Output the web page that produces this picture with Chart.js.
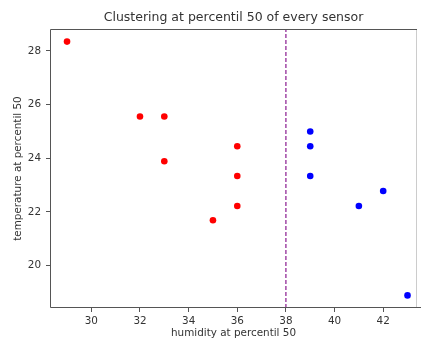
<!DOCTYPE html>
<html>
<head>
<meta charset="utf-8">
<script src="https://cdn.jsdelivr.net/npm/chart.js@4/dist/chart.umd.min.js"></script>
<style>
  html, body { margin: 0; padding: 0; background: #fff; overflow: hidden; }
</style>
</head>
<body>
<canvas id="myChart" width="421" height="341"></canvas>
<script>
// cluster 0 (red) and cluster 1 (blue), humidity / temperature at percentile 50
const redHumidity = [29, 32, 33, 33, 36, 36, 36, 35];
const redTemperature = [28.35, 25.56, 25.56, 23.89, 24.45, 23.34, 22.22, 21.69];
const blueHumidity = [39, 39, 39, 42, 41, 43];
const blueTemperature = [25.0, 24.45, 23.34, 22.78, 22.22, 18.89];

const splitHumidity = 38;

const xTicks = [30, 32, 34, 36, 38, 40, 42];
const yTicks = [20, 22, 24, 26, 28];
const xLimits = [28.3, 43.39];
const yLimits = [18.42, 28.82];

const toPoints = (xs, ys) => xs.map((x, i) => ({ x: x, y: ys[i] }));

// axes box: dark left/top/bottom spines, the right one is barely visible
const frame = {
  id: "frame",
  afterDatasetsDraw(chart) {
    const a = chart.chartArea;
    const ctx = chart.ctx;
    ctx.save();
    ctx.lineWidth = 1;
    ctx.strokeStyle = "#ccc";
    ctx.beginPath();
    ctx.moveTo(a.right - 0.5, a.top);
    ctx.lineTo(a.right - 0.5, a.bottom);
    ctx.stroke();
    ctx.strokeStyle = "#555";
    ctx.beginPath();
    ctx.moveTo(a.right, a.top + 0.5);
    ctx.lineTo(a.left + 0.5, a.top + 0.5);
    ctx.lineTo(a.left + 0.5, a.bottom - 0.5);
    ctx.lineTo(421, a.bottom - 0.5);
    ctx.stroke();
    ctx.restore();
  },
};

const font = { family: "DejaVu Sans", size: 10.4 };

new Chart(document.getElementById("myChart"), {
  type: "scatter",
  data: {
    datasets: [
      {
        label: "cluster 0",
        data: toPoints(redHumidity, redTemperature),
        backgroundColor: "#ff0000",
        borderColor: "#ff0000",
        pointRadius: 3.3,
        borderWidth: 0,
      },
      {
        label: "cluster 1",
        data: toPoints(blueHumidity, blueTemperature),
        backgroundColor: "#0000ff",
        borderColor: "#0000ff",
        pointRadius: 3.3,
        borderWidth: 0,
      },
      {
        type: "line",
        label: "split",
        data: [
          { x: splitHumidity, y: yLimits[0] },
          { x: splitHumidity, y: yLimits[1] },
        ],
        borderColor: "#8a1a8f",
        borderWidth: 1.2,
        borderDash: [4, 2],
        pointRadius: 0,
        fill: false,
      },
    ],
  },
  options: {
    responsive: false,
    animation: false,
    devicePixelRatio: 1,
    layout: { padding: { left: 0, right: 4, top: 0, bottom: 0 } },
    plugins: {
      legend: { display: false },
      tooltip: { enabled: false },
      title: {
        display: true,
        fullSize: false,
        text: "Clustering at percentil 50 of every sensor",
        color: "#333",
        font: { family: "DejaVu Sans", size: 12.5, weight: "normal" },
        padding: { top: 10, bottom: 4 },
      },
    },
    scales: {
      x: {
        type: "linear",
        min: xLimits[0],
        max: xLimits[1],
        afterBuildTicks: (s) => { s.ticks = xTicks.map((v) => ({ value: v })); },
        afterFit: (s) => { s.height = 33; },
        border: { display: false },
        grid: { drawOnChartArea: false, tickLength: 4, color: "#555" },
        ticks: { color: "#333", font: font, padding: 3, maxRotation: 0 },
        title: {
          display: true,
          text: "humidity at percentil 50",
          color: "#333",
          font: font,
          padding: { top: 0, bottom: 1 },
        },
      },
      y: {
        type: "linear",
        min: yLimits[0],
        max: yLimits[1],
        afterBuildTicks: (s) => { s.ticks = yTicks.map((v) => ({ value: v })); },
        afterFit: (s) => { s.width = 50; },
        border: { display: false },
        grid: { drawOnChartArea: false, tickLength: 4, color: "#555" },
        ticks: { color: "#333", font: font, padding: 5 },
        title: {
          display: true,
          text: "temperature at percentil 50",
          color: "#333",
          font: font,
          padding: { top: 12, bottom: 0 },
        },
      },
    },
  },
  plugins: [frame],
});
</script>
</body>
</html>
